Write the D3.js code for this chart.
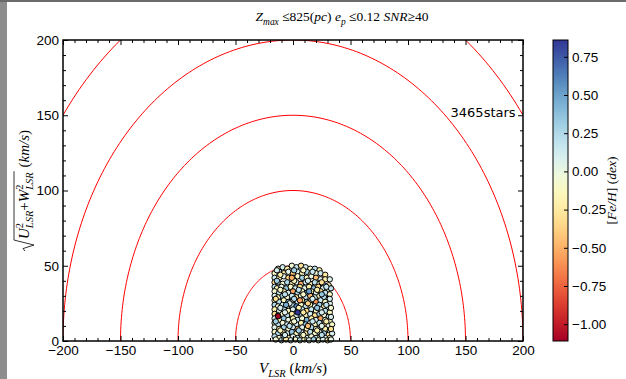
<!DOCTYPE html>
<html>
<head>
<meta charset="utf-8">
<script src="https://cdn.jsdelivr.net/npm/d3@7"></script>
<style>
  body { margin: 0; background: #fff; }
  svg { display: block; font-family: "DejaVu Sans", sans-serif; }
  .math text { font-family: "Liberation Serif", serif; white-space: pre; fill: #000; }
  .axis text { font-size: 13.5px; fill: #000; }
  .axis line { stroke: #000; }
</style>
</head>
<body>
<div id="chart"></div>
<script>
const radii = [50, 100, 150, 200, 250];
const xTicks = [-200, -150, -100, -50, 0, 50, 100, 150, 200];
const yTicks = [0, 50, 100, 150, 200];
const cbarTicks = [-1.0, -0.75, -0.5, -0.25, 0, 0.25, 0.5, 0.75];
const starCount = 3465;

// [V_LSR, sqrt(U^2+W^2), [Fe/H]]
const stars = [
  [-13, 48, -0.15], [-9, 49, 0.12], [-5, 48, -0.22], [-1, 50, -0.05], [3, 49, 0.18], [7, 50, -0.3], [11, 49, 0.1], [15, 48, -0.1], [19, 48, 0.2], [23, 47, -0.2],
  [-16, 45, -0.1], [-12, 46, 0.2], [-8, 45, -0.25], [-4, 46, 0.05], [0, 45, -0.4], [4, 46, 0.1], [8, 45, -0.15], [12, 46, 0.25], [16, 45, -0.2], [20, 45, -0.05], [24, 45, 0.15], [28, 44, -0.25],
  [-16, 42, 0.15], [-12, 42, -0.2], [-8, 43, 0.05], [-4, 42, -0.35], [0, 42, 0.2], [4, 43, -0.1], [8, 42, 0.3], [12, 42, -0.15], [16, 43, 0.0], [20, 42, -0.45], [24, 41, 0.1], [28, 41, -0.2], [32, 41, 0.05],
  [-16, 39, -0.3], [-13, 39, 0.1], [-9, 38, -0.05], [-5, 39, 0.25], [-1, 38, -0.2], [3, 39, 0.05], [7, 38, -0.5], [11, 39, 0.15], [15, 38, -0.25], [19, 39, 0.2], [23, 38, -0.1], [27, 37, 0.3], [31, 37, -0.15],
  [-16, 36, 0.2], [-14, 35, -0.15], [-10, 36, 0.0], [-6, 35, 0.35], [-2, 36, -0.1], [2, 35, 0.15], [6, 36, -0.3], [10, 35, 0.05], [14, 36, -0.2], [18, 35, 0.4], [22, 36, -0.35], [26, 35, 0.1], [30, 34, -0.05], [33, 35, 0.2],
  [-16, 33, -0.05], [-12, 32, 0.15], [-8, 33, -0.25], [-4, 32, 0.1], [0, 33, -0.55], [4, 32, 0.25], [8, 33, -0.1], [12, 32, 0.55], [16, 33, -0.15], [20, 32, 0.05], [24, 33, -0.3], [28, 32, 0.2], [32, 31, -0.1],
  [-16, 30, 0.1], [-13, 29, -0.2], [-9, 30, 0.3], [-5, 29, -0.05], [-1, 30, 0.15], [3, 29, -0.3], [7, 30, 0.0], [11, 29, 0.2], [15, 30, -0.45], [19, 29, 0.1], [23, 30, -0.15], [27, 29, 0.25], [31, 28, -0.2],
  [-16, 27, -0.1], [-12, 26, 0.2], [-8, 27, -0.15], [-4, 26, 0.45], [0, 27, -0.05], [4, 26, 0.1], [8, 27, -0.25], [12, 26, 0.3], [16, 27, -0.05], [20, 26, -0.6], [24, 27, 0.15], [28, 26, -0.1], [32, 25, 0.05],
  [-16, 24, 0.25], [-13, 23, -0.05], [-9, 24, 0.1], [-5, 23, -0.3], [-1, 24, 0.2], [3, 23, 0.6], [7, 24, -0.1], [11, 23, 0.15], [15, 24, -0.2], [19, 23, 0.05], [23, 24, 0.3], [27, 23, -0.25], [31, 22, 0.1],
  [-16, 21, -0.2], [-12, 20, 0.05], [-8, 21, 0.25], [-4, 20, -0.15], [0, 21, 0.1], [4, 20, -0.05], [8, 21, 0.2], [12, 20, -0.35], [16, 21, 0.15], [20, 20, -0.1], [24, 21, 0.05], [28, 20, 0.2], [32, 19, -0.15],
  [-16, 18, -0.3], [-13, 17, 0.15], [-9, 18, -0.1], [-5, 17, 0.2], [-1, 18, -0.25], [3, 17, 0.05], [7, 18, 0.3], [11, 17, -0.15], [15, 18, 0.1], [19, 17, -0.3], [23, 18, 0.25], [27, 17, -0.05], [31, 16, 0.15],
  [-16, 15, 0.1], [-12, 14, -0.2], [-8, 15, 0.35], [-4, 14, 0.0], [0, 15, -0.15], [4, 14, 0.2], [8, 15, -0.05], [12, 14, 0.45], [16, 15, -0.2], [20, 14, 0.1], [24, 15, -0.55], [28, 14, 0.05], [32, 13, -0.1],
  [-16, 12, -0.15], [-13, 11, 0.2], [-9, 12, -0.05], [-5, 11, 0.15], [-1, 12, -0.3], [3, 11, 0.1], [7, 12, -0.2], [11, 11, 0.4], [15, 12, 0.0], [19, 11, -0.15], [23, 12, 0.2], [27, 11, -0.4], [31, 10, 0.05], [34, 11, -0.1],
  [-16, 9, 0.05], [-12, 8, -0.25], [-8, 9, 0.3], [-4, 8, -0.1], [0, 9, 0.15], [4, 8, -0.5], [8, 9, 0.05], [12, 8, -0.15], [16, 9, 0.25], [20, 8, -0.05], [24, 9, 0.1], [28, 8, -0.2], [32, 7, 0.2],
  [-16, 6, -0.1], [-13, 5, 0.25], [-9, 6, -0.2], [-5, 5, 0.05], [-1, 6, 0.35], [3, 5, -0.15], [7, 6, 0.1], [11, 5, -0.3], [15, 6, 0.2], [19, 5, -0.1], [23, 6, 0.05], [27, 5, 0.3], [31, 4, -0.25], [34, 5, 0.1],
  [-16, 3, 0.2], [-12, 2, -0.1], [-8, 3, 0.1], [-4, 2, -0.2], [0, 3, 0.05], [4, 2, 0.25], [8, 3, -0.35], [12, 2, 0.1], [16, 3, -0.05], [20, 2, 0.15], [24, 3, -0.2], [28, 2, 0.05], [32, 2, -0.1],
  [-15, 1, -0.05], [-10, 0.5, 0.15], [-6, 1, -0.25], [-2, 0.5, 0.1], [2, 1, -0.1], [6, 0.5, 0.2], [10, 1, -0.15], [14, 0.5, 0.05], [18, 1, 0.3], [22, 0.5, -0.05], [26, 1, 0.1], [30, 0.5, -0.2], [33, 1, 0.0],
  [-14, 47, 0.1], [-11, 44, -0.2], [1, 47, 0.3], [9, 47, -0.1], [17, 46, 0.15], [-14, 40, 0.3], [1, 40, -0.15], [13, 40, 0.1], [25, 39, -0.3],
  [-11, 34, -0.1], [5, 34, 0.2], [21, 34, -0.2], [29, 36, 0.15], [-7, 31, 0.2], [9, 31, -0.1], [25, 31, 0.35], [-15, 28, -0.3], [1, 28, 0.25],
  [17, 28, 0.1], [-3, 25, 0.05], [13, 25, -0.35], [29, 24, 0.2], [-11, 22, 0.1], [5, 22, -0.2], [21, 22, 0.35], [-7, 19, 0.05], [9, 19, -0.25],
  [25, 19, 0.1], [-15, 13, 0.3], [1, 13, -0.05], [17, 13, 0.15], [29, 13, -0.2], [-3, 10, 0.2], [13, 10, -0.45], [25, 10, 0.05], [-11, 7, -0.15],
  [5, 7, 0.3], [21, 7, -0.2], [-7, 4, 0.1], [9, 4, -0.1], [25, 4, 0.2], [33, 8, -0.3], [33, 16, 0.1], [33, 22, -0.05], [32, 28, 0.1],
  [-1, 42, -0.5], [6, 27, -0.55], [-13, 16.5, -1.11], [4, 19, 0.86], [14, 33, 0.5], [-6, 24, 0.45]
];

class ToomreChart {
  constructor({ elChart, stars }) {
    this.elChart = elChart;
    this.stars = stars;
    this.init();
  }

  init() {
    this.setup();
    this.scaffold();
    this.render();
  }

  setup() {
    this.width = 626;
    this.height = 379;
    this.plot = { left: 63, right: 523, top: 40, bottom: 341 };
    this.cbar = { left: 553, width: 15 };
    this.pointRadius = 2.7;

    this.x = d3.scaleLinear().domain([-200, 200]).range([this.plot.left, this.plot.right]);
    this.y = d3.scaleLinear().domain([0, 200]).range([this.plot.bottom, this.plot.top]);

    this.fehExtent = d3.extent(this.stars, (d) => d[2]);
    this.color = d3.scaleSequential(d3.interpolateRdYlBu).domain(this.fehExtent);
    this.c = d3.scaleLinear().domain(this.fehExtent).range([this.plot.bottom, this.plot.top]);

    this.line = d3.line().x((d) => this.x(d[0])).y((d) => this.y(d[1]));
  }

  scaffold() {
    this.svg = d3
      .select(this.elChart)
      .append("svg")
      .attr("width", this.width)
      .attr("height", this.height);

    // window edge of the screenshot
    this.svg.append("rect").attr("width", 7).attr("height", this.height).attr("fill", "#8d8d8d");
    this.svg.append("rect").attr("width", this.width).attr("height", 2).attr("fill", "#6b6b6b");

    this.svg
      .append("clipPath")
      .attr("id", "plot-clip")
      .append("rect")
      .attr("x", this.plot.left)
      .attr("y", this.plot.top)
      .attr("width", this.plot.right - this.plot.left)
      .attr("height", this.plot.bottom - this.plot.top);

    this.gRings = this.svg.append("g").attr("clip-path", "url(#plot-clip)");
    this.gStars = this.svg.append("g");
    this.gAxes = this.svg.append("g");
    this.gCbar = this.svg.append("g");
    this.gText = this.svg.append("g");
  }

  render() {
    this.renderRings();
    this.renderStars();
    this.renderAxes();
    this.renderColorbar();
    this.renderLabels();
  }

  renderRings() {
    const angles = d3.range(0, 181).map((a) => (a * Math.PI) / 180);
    this.gRings
      .selectAll("path")
      .data(radii)
      .join("path")
      .attr("d", (r) => this.line(angles.map((a) => [r * Math.cos(a), r * Math.sin(a)])))
      .attr("fill", "none")
      .attr("stroke", "#ff0000")
      .attr("stroke-width", 1);
  }

  renderStars() {
    this.gStars
      .selectAll("circle")
      .data(this.stars)
      .join("circle")
      .attr("cx", (d) => this.x(d[0]))
      .attr("cy", (d) => this.y(d[1]))
      .attr("r", this.pointRadius)
      .attr("fill", (d) => this.color(d[2]))
      .attr("stroke", "#000")
      .attr("stroke-width", 1);
  }

  renderAxes() {
    const xMinor = d3.range(-200, 201, 10).filter((v) => !xTicks.includes(v));
    const yMinor = d3.range(0, 201, 10).filter((v) => !yTicks.includes(v));
    const fmt = d3.format("d");
    const axes = [
      [d3.axisBottom(this.x).tickValues(xTicks).tickFormat(fmt).tickPadding(4), 0, this.plot.bottom, 5],
      [d3.axisBottom(this.x).tickValues(xMinor).tickFormat(""), 0, this.plot.bottom, 3],
      [d3.axisTop(this.x).tickValues(xTicks).tickFormat(""), 0, this.plot.top, 5],
      [d3.axisTop(this.x).tickValues(xMinor).tickFormat(""), 0, this.plot.top, 3],
      [d3.axisLeft(this.y).tickValues(yTicks).tickFormat(fmt).tickPadding(4), this.plot.left, 0, 5],
      [d3.axisLeft(this.y).tickValues(yMinor).tickFormat(""), this.plot.left, 0, 3],
      [d3.axisRight(this.y).tickValues(yTicks).tickFormat(""), this.plot.right, 0, 5],
      [d3.axisRight(this.y).tickValues(yMinor).tickFormat(""), this.plot.right, 0, 3],
    ];
    axes.forEach(([axis, tx, ty, size]) => {
      this.gAxes
        .append("g")
        .attr("class", "axis")
        .attr("transform", `translate(${tx},${ty})`)
        .call(axis.tickSizeInner(-size).tickSizeOuter(0))
        .call((g) => g.select(".domain").remove())
        .call((g) => g.selectAll("text").attr("font-family", null).attr("font-size", null));
    });

    this.gAxes
      .append("rect")
      .attr("x", this.plot.left)
      .attr("y", this.plot.top)
      .attr("width", this.plot.right - this.plot.left)
      .attr("height", this.plot.bottom - this.plot.top)
      .attr("fill", "none")
      .attr("stroke", "#000")
      .attr("stroke-width", 1.5);
  }

  renderColorbar() {
    const grad = this.svg
      .append("defs")
      .append("linearGradient")
      .attr("id", "cbar-grad")
      .attr("x1", 0).attr("y1", 1).attr("x2", 0).attr("y2", 0);
    grad
      .selectAll("stop")
      .data(d3.range(0, 1.0001, 0.05))
      .join("stop")
      .attr("offset", (t) => t)
      .attr("stop-color", (t) => d3.interpolateRdYlBu(t));

    this.gCbar
      .append("rect")
      .attr("x", this.cbar.left)
      .attr("y", this.plot.top)
      .attr("width", this.cbar.width)
      .attr("height", this.plot.bottom - this.plot.top)
      .attr("fill", "url(#cbar-grad)")
      .attr("stroke", "#000")
      .attr("stroke-width", 1);

    this.gCbar
      .append("g")
      .attr("class", "axis")
      .attr("transform", `translate(${this.cbar.left + this.cbar.width},0)`)
      .call(
        d3.axisRight(this.c)
          .tickValues(cbarTicks)
          .tickFormat(d3.format(".2f"))
          .tickSizeInner(-4)
          .tickSizeOuter(0)
          .tickPadding(4),
      )
      .call((g) => g.select(".domain").remove())
      .call((g) => g.selectAll("text").attr("font-family", null).attr("font-size", null));
  }

  mathText(parent, pieces, size) {
    const g = parent.append("g").attr("class", "math");
    let x = 0;
    let held = 0;
    pieces.forEach((p) => {
      const small = p.sub || p.sup;
      const t = g
        .append("text")
        .attr("x", x)
        .attr("y", p.sub ? size * 0.28 : p.sup ? -size * 0.42 : 0)
        .attr("font-size", small ? size * 0.7 : size)
        .attr("font-style", p.i ? "italic" : "normal")
        .text(p.t);
      const w = t.node().getComputedTextLength();
      if (p.hold) {
        held = w;
      } else {
        x += Math.max(w, held);
        held = 0;
      }
    });
    return { g, width: x };
  }

  renderLabels() {
    // title
    const title = this.mathText(this.gText, [
      { t: "Z", i: 1 }, { t: "max", i: 1, sub: 1 }, { t: " ≤825(" }, { t: "pc", i: 1 }, { t: ") " },
      { t: "e", i: 1 }, { t: "p", i: 1, sub: 1 }, { t: " ≤0.12 " }, { t: "SNR", i: 1 }, { t: "≥40" },
    ], 13.5);
    title.g.attr("transform", `translate(${342 - title.width / 2},21)`);

    // x label
    const xl = this.mathText(this.gText, [
      { t: "V", i: 1 }, { t: "LSR", i: 1, sub: 1 }, { t: " (" }, { t: "km/s", i: 1 }, { t: ")" },
    ], 15);
    xl.g.attr("transform", `translate(${(this.plot.left + this.plot.right) / 2 - xl.width / 2},373)`);

    // y label with radical
    const size = 15;
    const yl = this.gText.append("g");
    const inner = yl.append("g");
    const rad = 12;
    const body = this.mathText(inner, [
      { t: "U", i: 1 }, { t: "2", sup: 1, hold: 1 }, { t: "LSR", i: 1, sub: 1 },
      { t: "+" },
      { t: "W", i: 1 }, { t: "2", sup: 1, hold: 1 }, { t: "LSR", i: 1, sub: 1 },
    ], size);
    body.g.attr("transform", `translate(${rad},0)`);
    const barEnd = rad + body.width + 1;
    inner
      .append("path")
      .attr("d", `M0,-4L2.5,-6L6,5L11,-15H${barEnd}`)
      .attr("fill", "none")
      .attr("stroke", "#000")
      .attr("stroke-width", 0.8);
    const units = this.mathText(inner, [{ t: " (" }, { t: "km/s", i: 1 }, { t: ")" }], size);
    units.g.attr("transform", `translate(${barEnd},0)`);
    const total = barEnd + units.width;
    inner.attr("transform", `translate(${-total / 2},0)`);
    yl.attr("transform", `translate(29,${(this.plot.top + this.plot.bottom) / 2}) rotate(-90)`);

    // colorbar label
    const cl = this.mathText(this.gText, [
      { t: "[" }, { t: "Fe/H", i: 1 }, { t: "] (" }, { t: "dex", i: 1 }, { t: ")" },
    ], 13.5);
    cl.g.attr("transform", `translate(616,${(this.plot.top + this.plot.bottom) / 2}) rotate(-90) translate(${-cl.width / 2},0)`);

    // star count
    this.gText
      .append("text")
      .attr("x", this.x(137))
      .attr("y", this.y(149))
      .attr("font-size", 13)
      .text(`${starCount}stars`);
  }
}

new ToomreChart({ elChart: document.getElementById("chart"), stars });
</script>
</body>
</html>
